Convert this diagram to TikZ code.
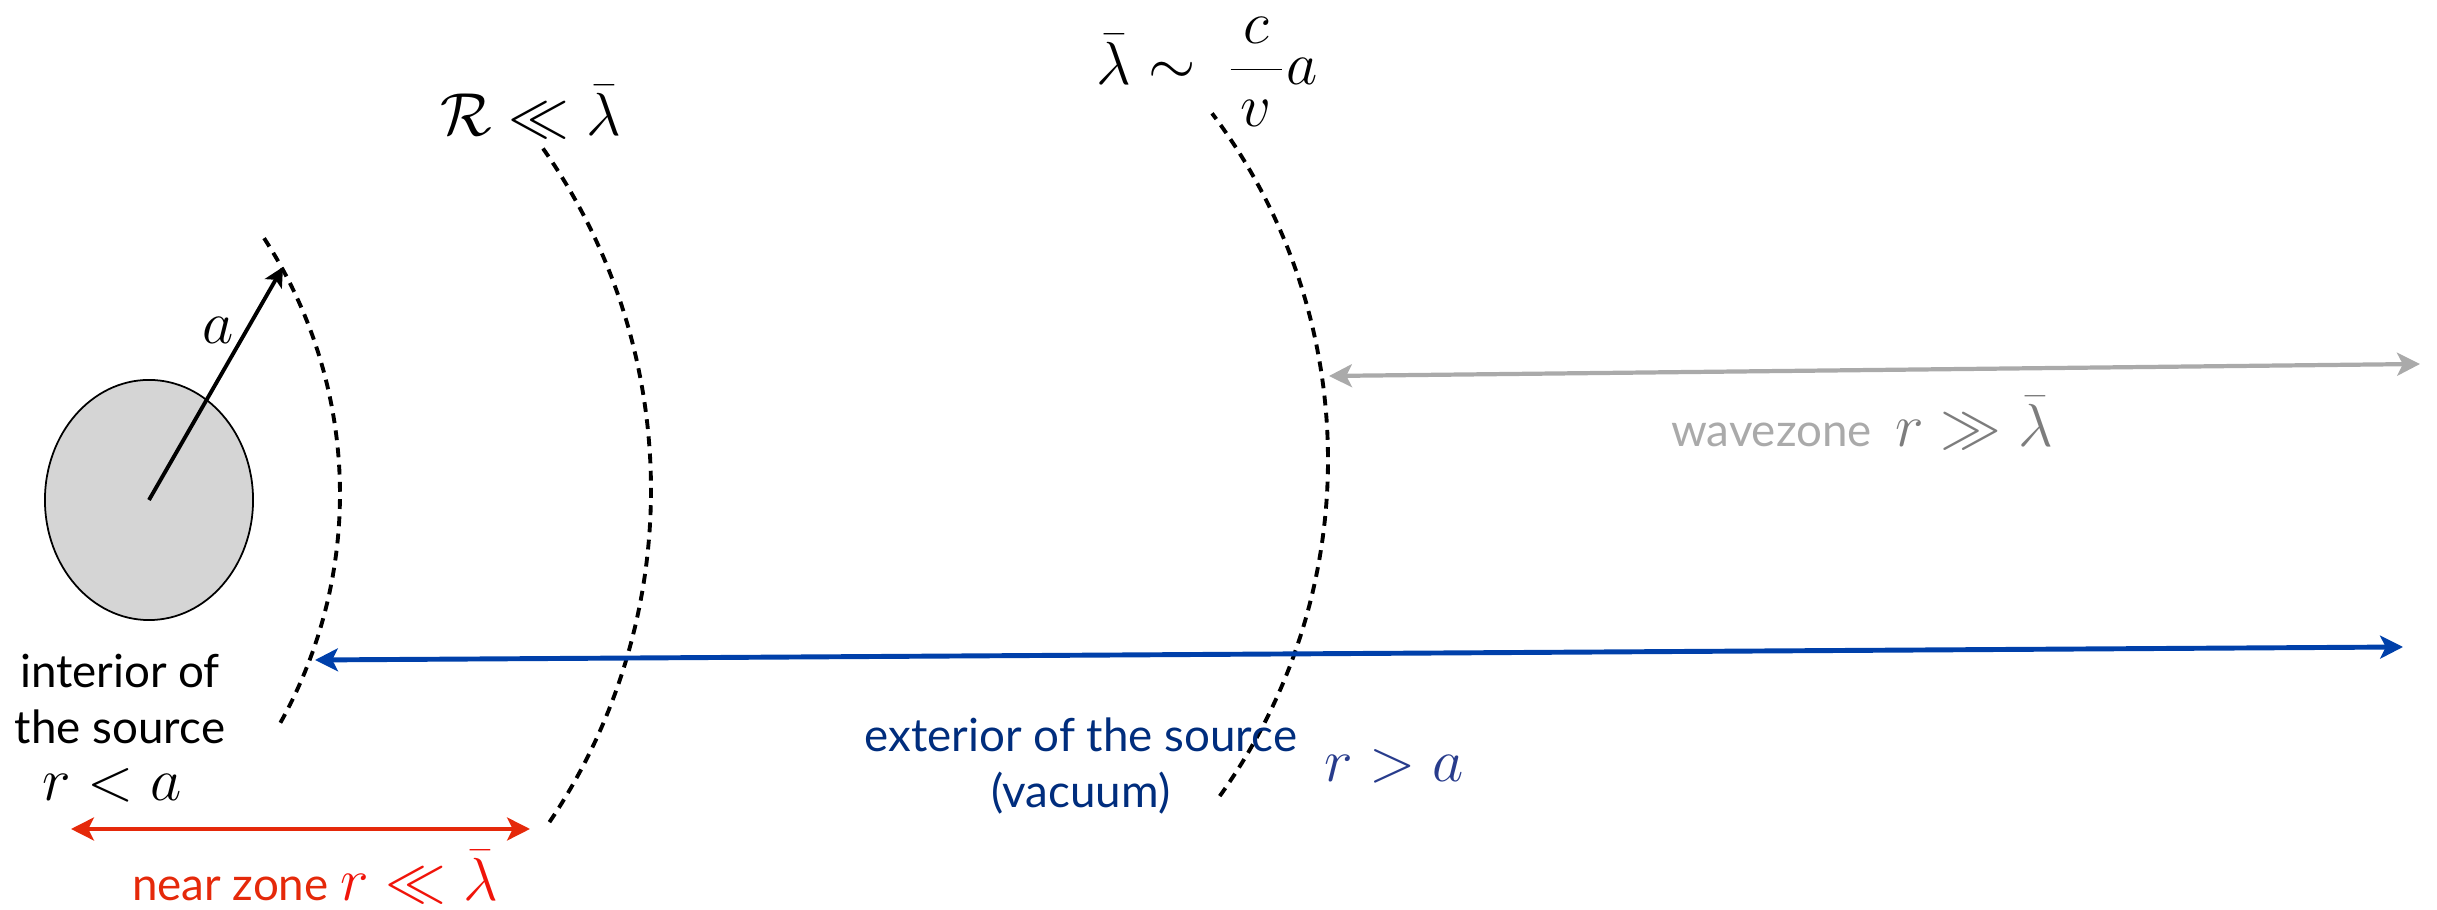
\documentclass[tikz,border=0pt]{standalone}
\usepackage{fontspec}
\setmainfont{Lato}
\usetikzlibrary{arrows.meta,shapes.geometric}
\definecolor{nearred}{RGB}{229,41,10}
\definecolor{zonered}{RGB}{240,20,10}
\definecolor{outblue}{RGB}{0,64,170}
\definecolor{outtext}{RGB}{0,45,125}
\definecolor{outmath}{RGB}{40,60,140}
\definecolor{wavegray}{RGB}{170,170,170}
\definecolor{wavemath}{RGB}{125,125,125}
\definecolor{srcfill}{RGB}{213,213,213}
\begin{document}
\begin{tikzpicture}[x=0.01cm,y=0.01cm,
  zoneline/.style={line width=1.1pt,dash pattern=on 2.8pt off 2.1pt},
  span/.style={line width=1.4pt,{Stealth[length=6.5pt,width=6.5pt,inset=1.6pt]}-{Stealth[length=6.5pt,width=6.5pt,inset=1.6pt]}},
  txt/.style={font=\fontsize{13}{16}\selectfont,align=center,inner sep=0pt},
  eq/.style={font=\fontsize{16}{19}\selectfont,inner sep=0pt}]
  \useasboundingbox (0,0) rectangle (2437,910);
  \node[ellipse,draw,line width=0.5pt,fill=srcfill,minimum width=2.08cm,minimum height=2.4cm,inner sep=0pt] (src) at (149,410) {};
  \coordinate (tipa) at (283,643);
  \draw[line width=1.1pt,-{Stealth[length=5.5pt,width=5.5pt,inset=1.3pt]}] (src.center) -- (tipa);
  \node[eq] (alab) at (218,580) {$a$};
  \draw[zoneline] (-129,416) ++(-29.2:469) arc[start angle=-29.2,end angle=33.1,radius=469];
  \draw[zoneline] (57,420) ++(-34:594) arc[start angle=-34,end angle=35.75,radius=594];
  \draw[zoneline] (752,450) ++(-35.7:576) arc[start angle=-35.7,end angle=37,radius=576];
  \node[eq] (nearcond) at (531,798) {$\mathcal{R}\ll\bar\lambda$};
  \node[eq,anchor=west] (wavelen) at (1096,838) {$\displaystyle\bar\lambda\sim\hspace{4pt}\frac{\,c\,}{\,v\,}a$};
  \coordinate (waveL) at (1329,534);
  \coordinate (waveR) at (2420,546);
  \draw[span,wavegray,line width=1.2pt] (waveL) -- (waveR);
  \node[txt,text=wavegray] (wavelab) at (1862,487) {wavezone\ \ {\fontsize{16}{19}\selectfont\color{wavemath}$r\gg\bar\lambda$}};
  \coordinate (outL) at (315,250);
  \coordinate (outR) at (2403,263);
  \draw[span,outblue] (outL) -- (outR);
  \node[txt,text=outtext] (outlab) at (1081,144) {exterior of the source\\(vacuum)};
  \node[eq,text=outmath] (rout) at (1394,144) {$r>a$};
  \node[txt] (inlab) at (120,211) {interior of\\the source};
  \node[eq] (rin) at (112,125) {$r<a$};
  \coordinate (nearL) at (71,81);
  \coordinate (nearR) at (530,81);
  \draw[span,nearred] (nearL) -- (nearR);
  \node[txt,text=nearred,anchor=base] (nearlab) at (315,9) {near zone\ {\fontsize{16}{19}\selectfont\color{zonered}$r\ll\bar\lambda$}};
\end{tikzpicture}
\end{document}
